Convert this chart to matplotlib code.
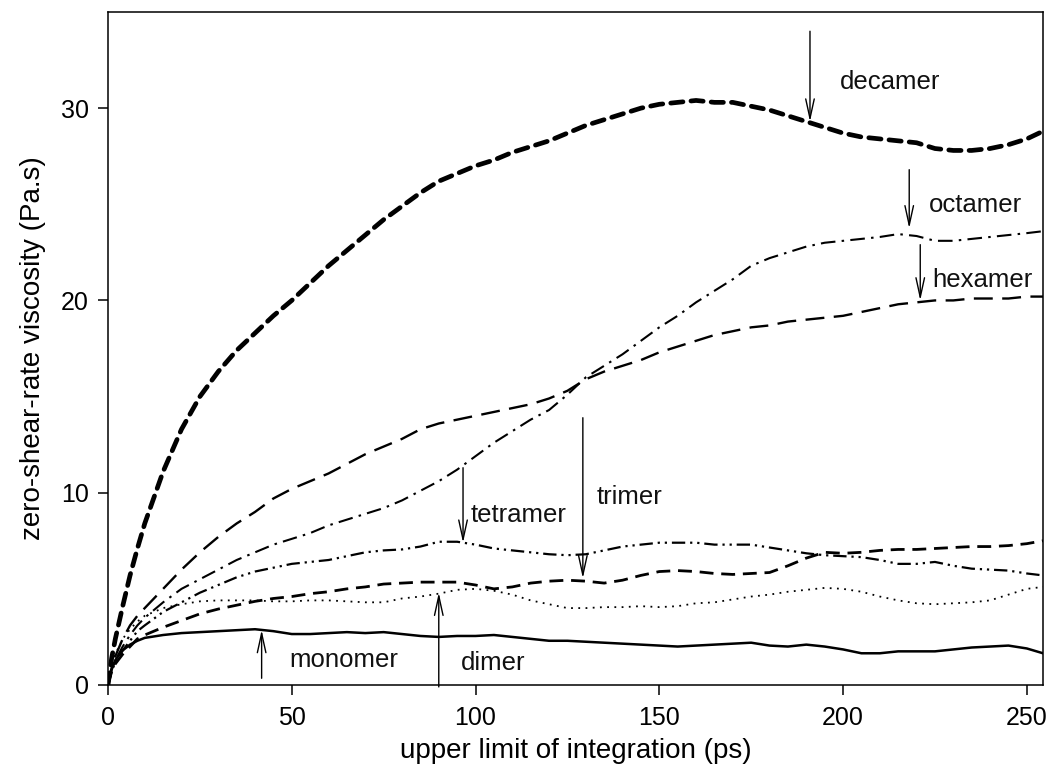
import matplotlib
matplotlib.use("Agg")
import matplotlib.pyplot as plt

plt.rcParams['font.family'] = ['Liberation Sans', 'DejaVu Sans']

# ---- data ----
t_ps = [0, 1, 2, 4, 6, 8, 10,
        15, 20, 25, 30, 35, 40, 45, 50,
        55, 60, 65, 70, 75, 80, 85, 90, 95, 100,
        105, 110, 115, 120, 125, 130, 135, 140, 145, 150,
        155, 160, 165, 170, 175, 180, 185, 190, 195, 200,
        205, 210, 215, 220, 225, 230, 235, 240, 245, 250,
        254.4]

decamer = [0, 1.4, 2.4, 4.1, 5.7, 7.1, 8.4,
           11.1, 13.3, 15.0, 16.3, 17.4, 18.3, 19.2, 20.0,
           20.9, 21.8, 22.6, 23.4, 24.2, 24.9, 25.6, 26.2, 26.6, 27.0,
           27.3, 27.7, 28.0, 28.3, 28.7, 29.1, 29.4, 29.7, 30.0, 30.2,
           30.3, 30.4, 30.3, 30.3, 30.1, 29.9, 29.6, 29.3, 29.0, 28.7,
           28.5, 28.4, 28.3, 28.2, 27.9, 27.8, 27.8, 27.9, 28.1, 28.4,
           28.8]

octamer = [0, 0.8, 1.3, 2.0, 2.6, 3.1, 3.5,
           4.3, 5.0, 5.5, 6.0, 6.5, 6.9, 7.3, 7.6,
           7.9, 8.3, 8.6, 8.9, 9.2, 9.6, 10.1, 10.6, 11.2, 11.9,
           12.6, 13.2, 13.8, 14.3, 15.1, 16.0, 16.6, 17.2, 17.9, 18.6,
           19.2, 19.9, 20.5, 21.1, 21.8, 22.2, 22.5, 22.8, 23.0, 23.1,
           23.2, 23.3, 23.45, 23.35, 23.1, 23.1, 23.2, 23.3, 23.4, 23.5,
           23.6]

hexamer = [0, 0.9, 1.5, 2.4, 3.1, 3.6, 4.0,
           5.0, 6.0, 6.9, 7.7, 8.4, 9.0, 9.7, 10.2,
           10.6, 11.0, 11.5, 12.0, 12.4, 12.8, 13.3, 13.6, 13.8, 14.0,
           14.2, 14.4, 14.6, 14.9, 15.3, 15.9, 16.3, 16.6, 16.9, 17.3,
           17.6, 17.9, 18.2, 18.4, 18.6, 18.7, 18.9, 19.0, 19.1, 19.2,
           19.4, 19.6, 19.8, 19.9, 20.0, 20.0, 20.1, 20.1, 20.1, 20.2,
           20.2]

tetramer = [0, 0.7, 1.2, 1.8, 2.3, 2.8, 3.1,
            3.8, 4.3, 4.8, 5.2, 5.6, 5.9, 6.1, 6.3,
            6.4, 6.5, 6.7, 6.9, 7.0, 7.05, 7.2, 7.45, 7.45, 7.3,
            7.1, 7.0, 6.9, 6.8, 6.75, 6.8, 7.0, 7.2, 7.3, 7.4,
            7.4, 7.4, 7.3, 7.3, 7.3, 7.15, 7.0, 6.85, 6.75, 6.7,
            6.65, 6.5, 6.3, 6.3, 6.4, 6.2, 6.05, 6.0, 5.95, 5.8,
            5.7]

trimer = [0, 0.7, 1.1, 1.6, 2.0, 2.4, 2.6,
          3.0, 3.35, 3.7, 3.95, 4.15, 4.35, 4.5, 4.6,
          4.75, 4.85, 5.0, 5.1, 5.25, 5.3, 5.35, 5.35, 5.35, 5.2,
          5.0, 5.1, 5.3, 5.4, 5.45, 5.4, 5.3, 5.45, 5.7, 5.9,
          5.95, 5.9, 5.8, 5.75, 5.8, 5.85, 6.2, 6.6, 6.9, 6.85,
          6.9, 7.0, 7.05, 7.05, 7.1, 7.15, 7.2, 7.2, 7.25, 7.35,
          7.5]

dimer = [0, 1.0, 1.6, 2.4, 2.9, 3.3, 3.6,
         4.0, 4.2, 4.35, 4.4, 4.4, 4.4, 4.35, 4.35,
         4.4, 4.4, 4.35, 4.3, 4.3, 4.5, 4.6, 4.75, 4.95, 5.0,
         4.9, 4.7, 4.4, 4.2, 4.0, 4.0, 4.05, 4.05, 4.1, 4.05,
         4.1, 4.25, 4.3, 4.45, 4.6, 4.7, 4.85, 4.95, 5.05, 5.0,
         4.85, 4.6, 4.4, 4.25, 4.2, 4.25, 4.3, 4.4, 4.7, 5.0,
         5.1]

monomer = [0, 0.8, 1.3, 1.8, 2.1, 2.3, 2.45,
           2.6, 2.7, 2.75, 2.8, 2.85, 2.9, 2.8, 2.65,
           2.65, 2.7, 2.75, 2.7, 2.75, 2.65, 2.55, 2.5, 2.55, 2.55,
           2.6, 2.5, 2.4, 2.3, 2.3, 2.25, 2.2, 2.15, 2.1, 2.05,
           2.0, 2.05, 2.1, 2.15, 2.2, 2.05, 2.0, 2.1, 2.0, 1.85,
           1.65, 1.65, 1.75, 1.75, 1.75, 1.85, 1.95, 2.0, 2.05, 1.9,
           1.65]

# annotation labels
annot_names = ["monomer", "dimer", "trimer", "tetramer", "hexamer", "octamer", "decamer"]
arrow_x = [41.8, 90.0, 129.2, 96.6, 221.0, 218.0, 191.0]
arrow_from = [0.35, -0.1, 13.9, 11.3, 22.9, 26.8, 34.0]
arrow_to = [2.86, 4.8, 5.55, 7.4, 20.0, 23.75, 29.3]
label_x = [49.3, 96.0, 133.0, 98.8, 224.4, 223.3, 199.0]
label_y = [1.3, 1.15, 9.8, 8.85, 21.05, 24.95, 31.35]

x_ticks = [0, 50, 100, 150, 200, 250]
y_ticks = [0, 10, 20, 30]

# ---- figure ----
fig = plt.figure(figsize=(10.52, 7.76), dpi=100)
ax = fig.add_axes([108 / 1052, 1 - 685 / 776, (1043 - 108) / 1052, (685 - 12) / 776])

k = 'black'
ax.plot(t_ps, monomer, color=k, lw=1.8, ls='-')
ax.plot(t_ps, dimer, color=k, lw=1.3, ls=(0, (1, 3)))
ax.plot(t_ps, trimer, color=k, lw=2.0, ls=(0, (5, 2.8)))
ax.plot(t_ps, tetramer, color=k, lw=1.6, ls=(0, (6, 2.2, 1, 2.2, 1, 2.2)))
ax.plot(t_ps, hexamer, color=k, lw=1.7, ls=(0, (8, 4)))
ax.plot(t_ps, octamer, color=k, lw=1.5, ls=(0, (7, 3, 1.2, 3)))
ax.plot(t_ps, decamer, color=k, lw=3.4, ls=(0, (2.6, 1.7)), dash_capstyle='round')

for name, ax_x, y0, y1, lx, ly in zip(annot_names, arrow_x, arrow_from, arrow_to, label_x, label_y):
    ax.annotate("", xy=(ax_x, y1), xytext=(ax_x, y0),
                arrowprops=dict(arrowstyle="->,head_length=1.0,head_width=0.22",
                                mutation_scale=14, color=k, lw=1.0,
                                shrinkA=0, shrinkB=0),
                annotation_clip=False)
    ax.text(lx, ly, name, fontsize=18.5, ha='left', va='center', color='#111111')

ax.set_xlim(0, 254.4)
ax.set_ylim(0, 35)
ax.set_xticks(x_ticks)
ax.set_yticks(y_ticks)
ax.tick_params(axis='both', direction='out', length=7, width=1.1, labelsize=18)
ax.tick_params(axis='x', pad=8)
ax.tick_params(axis='y', pad=7)
for s in ax.spines.values():
    s.set_linewidth(1.1)

ax.set_xlabel("upper limit of integration (ps)", fontsize=20)
ax.set_ylabel("zero-shear-rate viscosity (Pa.s)", fontsize=20)
ax.xaxis.set_label_coords(0.5, -0.079)
ax.yaxis.set_label_coords(-0.066, 0.5)

fig.savefig("out.png", dpi=100)
